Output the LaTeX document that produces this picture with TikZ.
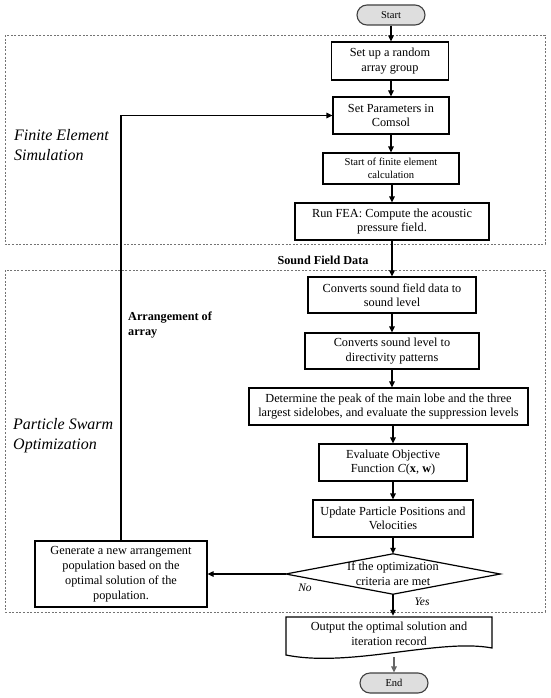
\documentclass[tikz,border=0pt]{standalone}
\usepackage{fontspec}
\setmainfont{Liberation Serif}
\usetikzlibrary{arrows.meta,calc}
\begin{document}
\begin{tikzpicture}[x=1pt,y=-1pt,
  box/.style={draw=black,line width=1.2pt,align=center,inner sep=1pt,
    font=\fontsize{12.3}{14.5}\selectfont},
  term/.style={draw=black!75,line width=1.1pt,fill=black!13,rounded corners=10pt,
    minimum width=68pt,minimum height=20pt,inner sep=0pt,font=\fontsize{10.5}{12}\selectfont},
  arr/.style={line width=1.2pt,-{Triangle[length=6pt,width=5.5pt]}},
  region/.style={draw=black!55,line width=0.9pt,dash pattern=on 2pt off 1.6pt},
  section/.style={font=\fontsize{16}{20}\selectfont\itshape,align=left,anchor=west,inner sep=0pt},
  boldlbl/.style={font=\fontsize{12.2}{15}\selectfont\bfseries,align=left,inner sep=0pt},
  yn/.style={font=\fontsize{11.5}{13}\selectfont\itshape,inner sep=0pt}
]
\useasboundingbox (0,0) rectangle (550,698);
% regions
\draw[region] (5,35) rectangle (545,244);
\draw[region] (5,270) rectangle (545,612);
\node[section] (fes) at (14,145) {Finite Element\\Simulation};
\node[section] (pso) at (13,436) {Particle Swarm\\Optimization};

% nodes
\node[term] (start) at (391,15) {Start};
\node[box,minimum width=117pt,minimum height=38pt] (b1) at (390,61) {Set up a random\\array group};
\node[box,minimum width=116pt,minimum height=37pt] (b2) at (391,115.5) {Set Parameters in\\Comsol};
\node[box,minimum width=136pt,minimum height=31pt,font=\fontsize{10.6}{13}\selectfont] (b3) at (391,168.5) {Start of finite element\\calculation};
\node[box,minimum width=194pt,minimum height=37pt] (b4) at (392,221.5) {Run FEA: Compute the acoustic\\pressure field.};
\node[boldlbl] (sfd) at (323,260) {Sound Field Data};
\node[box,minimum width=168pt,minimum height=36pt] (b5) at (392,295) {Converts sound field data to\\sound level};
\node[boldlbl,anchor=west] (arrlbl) at (128,325) {Arrangement of\\array};
\node[box,minimum width=174pt,minimum height=36pt] (b6) at (392,351) {Converts sound level to\\directivity patterns};
\node[box,minimum width=279pt,minimum height=37pt] (b7) at (388.5,406.5) {Determine the peak of the main lobe and the three\\largest sidelobes, and evaluate the suppression levels};
\node[box,minimum width=148pt,minimum height=37pt] (b8) at (393,462.5) {Evaluate Objective\\Function \textit{C}(\textbf{x}, \textbf{w})};
\node[box,minimum width=160pt,minimum height=37pt] (b9) at (393,518.5) {Update Particle Positions and\\Velocities};
\node[minimum width=214pt,minimum height=40pt,inner sep=0pt,align=center,
  font=\fontsize{12.3}{15}\selectfont] (dia) at (393,574) {If the optimization\\criteria are met};
\draw[line width=1.2pt] (dia.west) -- (dia.north) -- (dia.east) -- (dia.south) -- cycle;
\node[box,minimum width=172pt,minimum height=66pt,font=\fontsize{12.3}{15}\selectfont] (gen) at (121,574) {Generate a new arrangement\\population based on the\\optimal solution of the\\population.};
\node[minimum width=206pt,minimum height=36pt,inner sep=0pt,align=center,
  font=\fontsize{12.3}{14.5}\selectfont] (out) at (389,634) {Output the optimal solution and\\iteration record};
\draw[line width=1.2pt] (286,617) -- (492,617) -- (492,648)
  .. controls (440,638) and (350,668) .. (286,655) -- cycle;
\coordinate (outb) at (394,657);
\node[term] (end) at (394,683) {End};
\node[yn] (no) at (305,588) {No};
\node[yn] (yes) at (422,602) {Yes};

% connectors
\draw[arr] (start.south) -- (start.south |- b1.north);
\draw[arr] (b1.south -| b2) -- (b2.north);
\draw[arr] (b2.south) -- (b3.north);
\draw[arr] (b3.south -| b4) -- (b4.north);
\draw[arr] (b4.south) -- (b5.north);
\draw[arr] (b5.south) -- (b6.north);
\draw[arr] (b6.south |- b6.south) -- (b6.south |- b7.north);
\draw[arr] (b7.south -| b8) -- (b8.north);
\draw[arr] (b8.south) -- (b9.north);
\draw[arr] (b9.south) -- (dia.north);
\draw[arr] (dia.west) -- (gen.east);
\draw[arr] (gen.north) -- (gen.north |- b2.west) -- (b2.west);
\draw[arr] (dia.south) -- (dia.south |- out.north);
\draw[arr,draw=black!60,fill=black!60] (outb) -- (end.north);
\end{tikzpicture}
\end{document}
